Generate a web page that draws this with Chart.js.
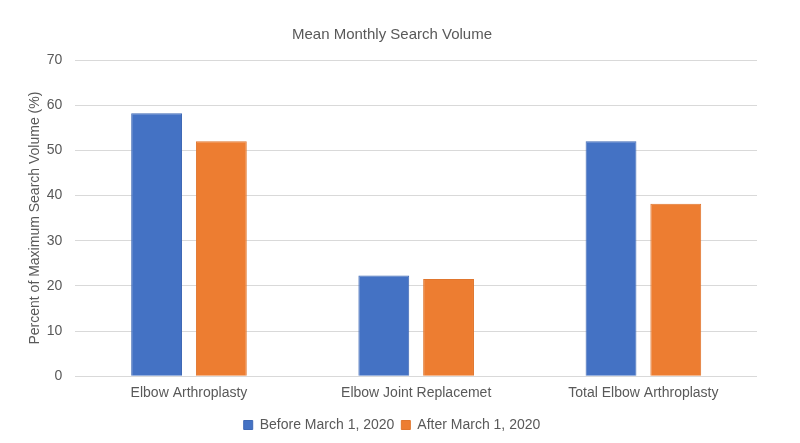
<!DOCTYPE html>
<html>
<head>
<meta charset="utf-8">
<script src="https://cdn.jsdelivr.net/npm/chart.js@4"></script>
<style>
  html, body { margin: 0; padding: 0; background: #fff; }
  #wrap { width: 800px; height: 443px; }
</style>
</head>
<body>
<div id="wrap"><canvas id="chart"></canvas></div>
<script>
// data
const categories = ['Elbow Arthroplasty', 'Elbow Joint Replacemet', 'Total Elbow Arthroplasty'];
const seriesNames = ['Before March 1, 2020', 'After March 1, 2020'];
const beforeValues = [58.2, 22.3, 52.0];
const afterValues = [52.0, 21.5, 38.2];
const yTicks = [0, 10, 20, 30, 40, 50, 60, 70];

const textColor = '#595959';
const fontFamily = "'Liberation Sans', Arial, sans-serif";

new Chart(document.getElementById('chart').getContext('2d'), {
  type: 'bar',
  data: {
    labels: categories,
    datasets: [
      { label: seriesNames[0], data: beforeValues, backgroundColor: '#4472C4', borderColor: '#3f69b5', borderWidth: 1 },
      { label: seriesNames[1], data: afterValues, backgroundColor: '#ED7D31', borderColor: '#e0762e', borderWidth: 1 }
    ]
  },
  options: {
    responsive: true,
    maintainAspectRatio: false,
    animation: false,
    layout: { padding: { left: 27, right: 43, top: 14, bottom: 1 } },
    datasets: { bar: { categoryPercentage: 0.57, barPercentage: 0.785 } },
    plugins: {
      title: {
        display: true,
        text: 'Mean Monthly Search Volume',
        color: textColor,
        font: { family: fontFamily, size: 15, weight: 'normal' },
        padding: { top: 12, bottom: 16 }
      },
      legend: {
        position: 'bottom',
        labels: {
          color: textColor,
          font: { family: fontFamily, size: 14 },
          boxWidth: 9,
          boxHeight: 9,
          padding: 7
        }
      },
      tooltip: { enabled: false }
    },
    scales: {
      x: {
        grid: { display: false, drawTicks: false },
        border: { display: false },
        ticks: { color: textColor, font: { family: fontFamily, size: 14 }, padding: 9 }
      },
      y: {
        min: yTicks[0],
        max: yTicks[yTicks.length - 1],
        afterBuildTicks: axis => { axis.ticks = yTicks.map(v => ({ value: v })); },
        grid: { color: '#d9d9d9', drawTicks: false },
        border: { display: false },
        ticks: { color: textColor, font: { family: fontFamily, size: 14 }, padding: 13 },
        title: {
          display: true,
          text: 'Percent of Maximum Search Volume (%)',
          color: textColor,
          font: { family: fontFamily, size: 14 },
          padding: { top: 0, bottom: -10 }
        }
      }
    }
  }
});
</script>
</body>
</html>
